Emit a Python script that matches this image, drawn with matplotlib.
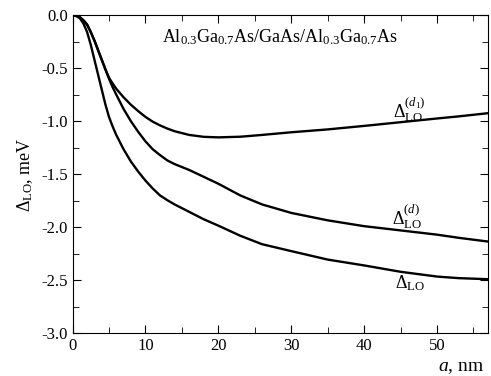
import matplotlib.pyplot as plt
from matplotlib.ticker import MultipleLocator

# curves: a (nm) vs Delta (meV)
a = [0, 0.5, 1, 1.5, 2, 2.5, 3, 3.5, 4, 4.5, 5, 5.5, 6, 7, 8, 9, 10, 11, 12, 13, 14, 16, 18,
     20, 23, 26, 30, 35, 40, 45, 50, 53, 57]
delta_d1 = [0, -0.005, -0.02, -0.05, -0.09, -0.16, -0.24, -0.33, -0.42, -0.51, -0.59, -0.645,
            -0.695, -0.775, -0.845, -0.905, -0.96, -1.005, -1.04, -1.07, -1.095, -1.13,
            -1.148, -1.153, -1.147, -1.13, -1.105, -1.078, -1.045, -1.01, -0.975, -0.955,
            -0.925]
delta_d = [0, -0.005, -0.02, -0.05, -0.09, -0.16, -0.24, -0.33, -0.42, -0.51, -0.60, -0.68,
           -0.75, -0.885, -1.00, -1.10, -1.19, -1.265, -1.32, -1.37, -1.405, -1.46, -1.525,
           -1.59, -1.70, -1.785, -1.865, -1.935, -1.99, -2.03, -2.07, -2.10, -2.135]
delta = [0, -0.01, -0.03, -0.08, -0.16, -0.28, -0.42, -0.56, -0.70, -0.84, -0.96, -1.05,
         -1.13, -1.265, -1.38, -1.475, -1.56, -1.635, -1.70, -1.745, -1.785, -1.855, -1.925,
         -1.985, -2.08, -2.16, -2.225, -2.305, -2.36, -2.42, -2.465, -2.48, -2.49]

plt.rcParams['font.family'] = ['Liberation Serif', 'DejaVu Serif']
plt.rcParams['mathtext.fontset'] = 'custom'
plt.rcParams['mathtext.rm'] = 'Liberation Serif'
plt.rcParams['mathtext.it'] = 'Liberation Serif:italic'

fig = plt.figure(figsize=(4.91, 3.76), dpi=100)
ax = fig.add_axes([0.1477, 0.1135, 0.8463, 0.8465])

for ys in (delta_d1, delta_d, delta):
    ax.plot(a, ys, color='black', lw=1.7, solid_joinstyle='round')

ax.set_xlim(0, 57)
ax.set_ylim(-3.0, 0.0)
ax.xaxis.set_major_locator(MultipleLocator(10))
ax.xaxis.set_minor_locator(MultipleLocator(5))
ax.yaxis.set_major_locator(MultipleLocator(0.5))
ax.yaxis.set_minor_locator(MultipleLocator(0.25))
ax.yaxis.set_major_formatter(plt.FuncFormatter(lambda v, p: f'{v:.1f}'))
ax.tick_params(which='both', direction='in', top=True, right=True, labelsize=12)
ax.tick_params(which='major', length=6)
ax.tick_params(which='minor', length=4)

ax.set_ylabel(r'$\Delta_{\rm LO}$, meV', fontsize=13, labelpad=4)
ax.set_xlabel(r'$a$, nm', fontsize=14)
ax.xaxis.set_label_coords(0.935, -0.08)

ax.text(0.5, 0.93, r'Al$_{0.3}$Ga$_{0.7}$As/GaAs/Al$_{0.3}$Ga$_{0.7}$As',
        transform=ax.transAxes, ha='center', va='center', fontsize=13)
ax.text(46.2, -0.89, r'$\Delta_{\rm LO}^{(d_{\it 1})}$', fontsize=13, ha='center', va='center')
ax.text(45.9, -1.9, r'$\Delta_{\rm LO}^{(d)}$', fontsize=13, ha='center', va='center')
ax.text(46.3, -2.53, r'$\Delta_{\rm LO}$', fontsize=13, ha='center', va='center')

fig.savefig('out.png', dpi=100)
